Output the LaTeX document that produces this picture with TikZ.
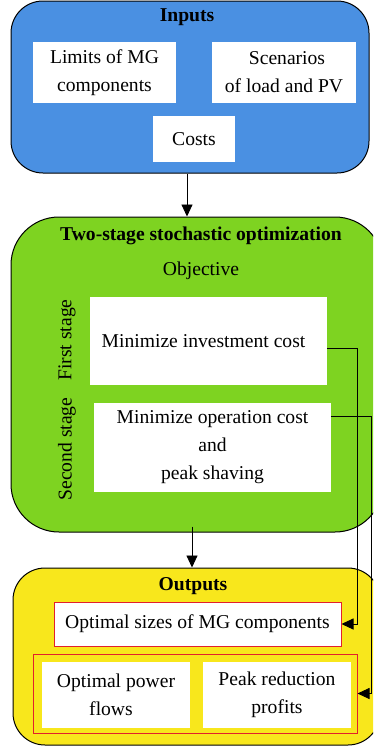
\documentclass[tikz,border=0pt]{standalone}
\usepackage{fontspec}
\setmainfont{Liberation Serif}
\usetikzlibrary{arrows.meta,calc}
\definecolor{inblue}{RGB}{74,144,226}
\definecolor{optgreen}{RGB}{126,211,33}
\definecolor{outyellow}{RGB}{248,231,28}
\definecolor{boxred}{RGB}{226,32,44}
\tikzset{
  container/.style={draw=black, line width=1pt, inner sep=0pt},
  whitebox/.style={fill=white, inner sep=0pt, align=center, font=\fontsize{19.6}{28}\selectfont},
  redbox/.style={draw=boxred, line width=1pt, inner sep=0pt},
  title/.style={font=\fontsize{19.6}{24}\selectfont\bfseries, inner sep=0pt},
  plain/.style={font=\fontsize{19.6}{24}\selectfont, inner sep=0pt},
  conn/.style={line width=0.9pt, -{Triangle[length=12pt,width=11pt]}},
}
\begin{document}
\begin{tikzpicture}[x=1pt,y=-1pt]
\useasboundingbox (0,0) rectangle (373,748);
\clip (0,0) rectangle (373,748);
% Inputs
\node[container, fill=inblue, rounded corners=32pt, minimum width=358pt, minimum height=172pt] (inputs) at (190,87) {};
\node[title] (intitle) at (187,17) {Inputs};
\node[whitebox, minimum width=143pt, minimum height=61pt] (limits) at (104.5,72.5) {Limits of MG\\components};
\node[whitebox, minimum width=144pt, minimum height=61pt] (scen) at (284,72.5) {\hspace*{6pt}Scenarios\\of load and PV};
\node[whitebox, minimum width=82pt, minimum height=46pt] (costs) at (194,139) {Costs};
% Optimization
\node[container, fill=optgreen, rounded corners=48pt, minimum width=372pt, minimum height=315pt] (green) at (197,374.5) {};
\node[title] (gtitle) at (201,236) {Two-stage stochastic optimization};
\node[plain] (objective) at (201,271) {Objective};
\node[whitebox, minimum width=237pt, minimum height=88pt] (first) at (208.5,341) {Minimize investment cost\hspace*{10pt}};
\node[whitebox, minimum width=237pt, minimum height=89pt] (second) at (212.5,447.5) {Minimize operation cost\\and\\peak shaving};
\node[plain, rotate=90] (fstage) at (67,340) {First stage};
\node[plain, rotate=90] (sstage) at (67,449) {Second stage};
% Outputs
\node[container, fill=outyellow, rounded corners=32pt, minimum width=367pt, minimum height=177pt] (outputs) at (196.5,656.5) {};
\node[title] (otitle) at (193,586) {Outputs};
\node[redbox, fill=white, minimum width=287pt, minimum height=44pt, font=\fontsize{19.6}{24}\selectfont] (optsize) at (197.5,624) {Optimal sizes of MG components};
\node[redbox, minimum width=324pt, minimum height=79pt] (outer) at (195,693.5) {};
\node[whitebox, minimum width=148pt, minimum height=66pt] (flows) at (116,695) {Optimal power\\\hspace*{-10pt}flows};
\node[whitebox, minimum width=148pt, minimum height=66pt] (profits) at (277,694.5) {Peak reduction\\profits};
% Connectors
\draw[conn] ([xshift=-3pt]inputs.south) -- ([xshift=-3pt]inputs.south |- green.north);
\draw[conn] ([xshift=-5pt,yshift=6pt]green.south) -- ([xshift=-5pt]green.south |- outputs.north);
\draw[conn] ([yshift=-7pt]first.east) -- ++(30,0) |- (optsize.east);
\draw[conn] ([yshift=-14pt]second.north east) -- ++(40,0) |- (outer.east);
\end{tikzpicture}
\end{document}
